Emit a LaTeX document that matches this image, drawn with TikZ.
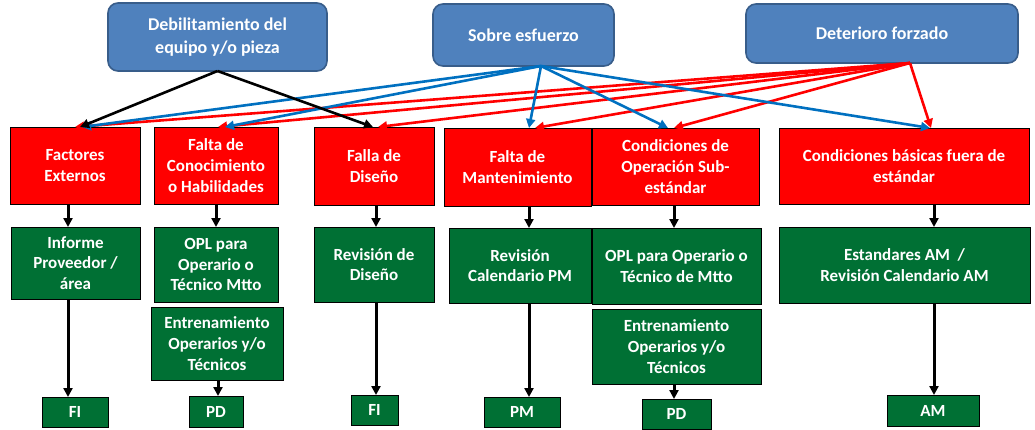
\documentclass[tikz,border=0pt]{standalone}
\usepackage{fontspec}
\setmainfont{Carlito}
\usetikzlibrary{arrows.meta}
\definecolor{topblue}{RGB}{79,129,189}
\definecolor{topedge}{RGB}{56,93,138}
\definecolor{causered}{RGB}{255,0,0}
\definecolor{actgreen}{RGB}{0,112,52}
\definecolor{linkblue}{RGB}{0,112,192}
\begin{document}
\begin{tikzpicture}[x=1pt,y=-1pt,
  box/.style={rectangle, inner sep=2pt, outer sep=0pt, align=center, text=white,
    font=\bfseries\fontsize{17}{20.8}\selectfont},
  sized/.style 2 args={minimum width=#1, minimum height=#2},
  topbox/.style={box, fill=topblue, draw=topedge, line width=1.6pt, rounded corners=10pt,
    font=\bfseries\fontsize{18}{22.5}\selectfont},
  causebox/.style={box, fill=causered, draw=black, line width=0.9pt},
  actbox/.style={box, fill=actgreen, draw=black, line width=0.9pt},
  down/.style={draw=black, line width=3pt, -{Triangle[length=9pt,width=9pt]}},
  link/.style={line width=2.6pt, -{Triangle[length=9pt,width=9pt]}},
  blacklink/.style={link, draw=black},
  bluelink/.style={link, draw=linkblue, fill=linkblue},
  redlink/.style={link, draw=causered, fill=causered}
]
\useasboundingbox (0,0) rectangle (1035,429);

% origins
\node[topbox, sized={219}{68}] (deb) at (217.5,37) {Debilitamiento del\\equipo y/o pieza};
\node[topbox, sized={181}{62}] (sob) at (523.5,35) {Sobre esfuerzo};
\node[topbox, sized={272}{59}] (det) at (882,33.5) {Deterioro forzado};

% causes
\node[causebox, sized={130}{77}] (fe) at (75,165.5) {Factores\\Externos};
\node[causebox, sized={124}{77}] (fc) at (216,165.5) {Falta de\\Conocimiento\\o Habilidades};
\node[causebox, sized={120}{78}] (fd) at (374,166) {Falla de\\Diseño};
\node[causebox, sized={147}{78}] (fm) at (517.5,167) {Falta de\\Mantenimiento};
\node[causebox, sized={167}{77}] (fo) at (675.5,166.5) {Condiciones de\\Operación Sub-\\estándar};
\node[causebox, sized={250}{76}] (fb) at (904,166) {Condiciones básicas fuera de\\estándar};

% countermeasures
\node[actbox, sized={129}{72}] (ge) at (75.5,263) {Informe\\Proveedor /\\área};
\node[actbox, sized={124}{75}] (go1) at (216,264.5) {OPL para\\Operario o\\Técnico Mtto};
\node[actbox, sized={132}{73}] (gt1) at (217,343.5) {Entrenamiento\\Operarios y/o\\Técnicos};
\node[actbox, sized={120}{75}] (gd) at (374,264.5) {Revisión de\\Diseño};
\node[actbox, sized={142}{75}] (gm) at (520,265.5) {Revisión\\Calendario PM};
\node[actbox, sized={169}{76}] (go2) at (676.5,266) {OPL para Operario o\\Técnico de Mtto};
\node[actbox, sized={169}{75}] (gt2) at (676.5,346.5) {Entrenamiento\\Operarios y/o\\Técnicos};
\node[actbox, sized={251}{76}] (gb) at (904.5,265) {Estandares AM~~/\\Revisión Calendario AM};

% pillars
\node[actbox, sized={66}{30}] (b1) at (75,412) {FI};
\node[actbox, sized={54}{31}] (b2) at (216,411.5) {PD};
\node[actbox, sized={47}{30}] (b3) at (374.5,410) {FI};
\node[actbox, sized={76}{30}] (b4) at (522,412) {PM};
\node[actbox, sized={69}{30}] (b5) at (676.5,414) {PD};
\node[actbox, sized={92}{31}] (b6) at (933,410.5) {AM};

% vertical flow
\draw[down] ([xshift=-7]fe.south) -- ([xshift=-7.5]ge.north);
\draw[down] ([xshift=-7.5]ge.south) -- ([xshift=-7]b1.north);
\draw[down] (fc.south) -- (go1.north);
\draw[down] ([xshift=1]gt1.south) -- ([xshift=2]b2.north);
\draw[down] ([xshift=2]fd.south) -- ([xshift=2]gd.north);
\draw[down] ([xshift=2]gd.south) -- ([xshift=1.5]b3.north);
\draw[down] ([xshift=11.5]fm.south) -- ([xshift=9]gm.north);
\draw[down] ([xshift=9]gm.south) -- ([xshift=7]b4.north);
\draw[down] ([xshift=-1.5]fo.south) -- ([xshift=-2.5]go2.north);
\draw[down] ([xshift=-2.5]gt2.south) -- ([xshift=-2.5]b5.north);
\draw[down] ([xshift=30]fb.south) -- ([xshift=29.5]gb.north);
\draw[down] ([xshift=29.5]gb.south) -- ([xshift=1]b6.north);

% Deterioro forzado
\draw[redlink] ([xshift=28]det.south) -- (fe.north);
\draw[redlink] ([xshift=28]det.south) -- ([xshift=2]fc.north);
\draw[redlink] ([xshift=28]det.south) -- ([xshift=4]fd.north);
\draw[redlink] ([xshift=28]det.south) -- ([xshift=17.5]fm.north);
\draw[redlink] ([xshift=28]det.south) -- ([xshift=-1.5]fo.north);
\draw[redlink] ([xshift=28]det.south) -- ([xshift=27]fb.north);

% Sobre esfuerzo
\draw[bluelink] ([xshift=17.5]sob.south) -- ([xshift=7]fe.north);
\draw[bluelink] ([xshift=17.5]sob.south) -- ([xshift=9]fc.north);
\draw[bluelink] ([xshift=17.5]sob.south) -- ([xshift=11.5]fm.north);
\draw[bluelink] ([xshift=17.5]sob.south) -- ([xshift=-7.5]fo.north);
\draw[bluelink] ([xshift=17.5]sob.south) -- ([xshift=26]fb.north);

% Debilitamiento del equipo
\draw[blacklink] (deb.south) -- ([xshift=5]fe.north);
\draw[blacklink] (deb.south) -- ([xshift=-1]fd.north);
\end{tikzpicture}
\end{document}
